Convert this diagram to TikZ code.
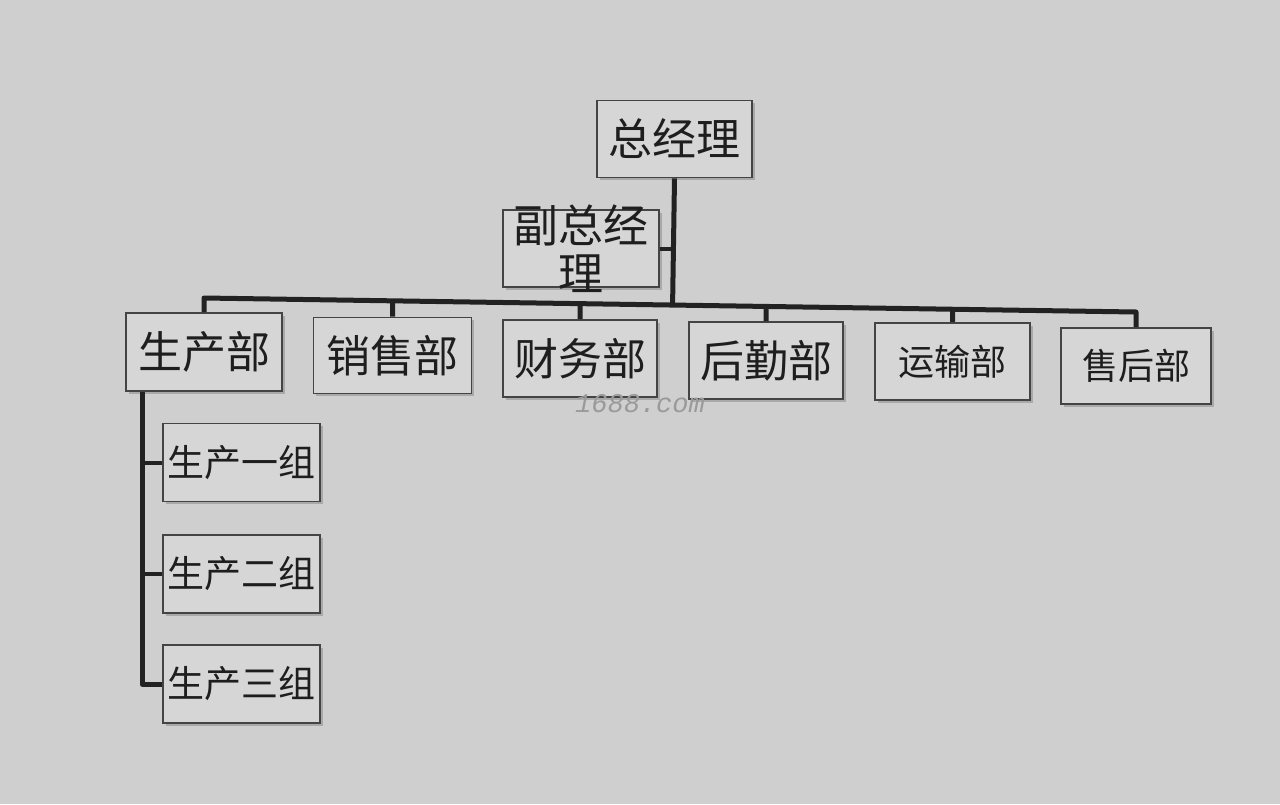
\documentclass[tikz,border=0pt]{standalone}
\usepackage{fontspec}
\setmainfont{Noto Sans CJK SC}
\newfontfamily\wmfont{Liberation Mono}
\usetikzlibrary{calc,shadows}
\definecolor{bg}{HTML}{CFCFCF}
\definecolor{boxfill}{HTML}{D6D6D6}
\definecolor{boxline}{HTML}{444444}
\definecolor{linec}{HTML}{222222}
\definecolor{ink}{HTML}{1E1E1E}
\definecolor{wm}{HTML}{9A9A9A}
\begin{document}
\begin{tikzpicture}[x=1pt,y=-1pt,
  box/.style={draw=boxline, fill=boxfill, line width=1.8pt, minimum width=155pt,
    minimum height=77pt, inner sep=0pt, text=ink,
    drop shadow={shadow xshift=2.5pt, shadow yshift=-2.5pt, fill=black, opacity=0.18}},
  big/.style={font=\fontsize{44}{48}\selectfont},
  mid/.style={font=\fontsize{36}{40}\selectfont},
  grp/.style={font=\fontsize{37}{40}\selectfont, minimum width=157pt, minimum height=78pt},
  link/.style={draw=linec, line width=5pt, line join=round},
  twig/.style={draw=linec, line width=4pt},
]
\fill[bg] (0,0) rectangle (1280,804);
\useasboundingbox (0,0) rectangle (1280,804);

% top
\node[box,big] (gm) at (674.5,139) {总经理};
\node[box, minimum width=156pt] (vgm) at (581,248.5) {};
\node[text=ink, align=center, font=\fontsize{45}{48}\selectfont, inner sep=0pt] (vgmtext) at (vgm) {副总经\\理};

% department row
\node[box,big, minimum width=156pt, minimum height=78pt] (prod) at (204,352) {生产部};
\node[box,big, minimum width=158pt, minimum height=76pt] (sale) at (392.5,355.5) {销售部};
\node[box,big, minimum width=154pt] (fin) at (580,358.5) {财务部};
\node[box,big, minimum width=154pt] (logi) at (766,360.5) {后勤部};
\node[box,mid] (trans) at (952.5,361.5) {运输部};
\node[box,mid, minimum width=150pt, minimum height=76pt] (after) at (1136,366) {售后部};

% production groups
\node[box,grp] (g1) at (241.5,462.5) {生产一组};
\node[box,grp] (g2) at (241.5,574) {生产二组};
\node[box,grp] (g3) at (241.5,684) {生产三组};

% bus
\coordinate (busL) at (204,298);
\coordinate (busR) at (1136,312);
\coordinate (sp) at (142,391);

\draw[link] (prod.north) -- (busL) -- (busR) -- (after.north);
\draw[link] (gm.south) -- ($(busL)!(gm.south)!(busR)$);
\draw[twig] (vgm.east) -- (vgm.east -| gm.south);
\foreach \n in {sale,fin,logi,trans}
  \draw[link] (\n.north) -- ($(busL)!(\n.north)!(busR)$);

% spine
\draw[link] (prod.south -| sp) |- (g3.west);
\draw[twig] (g1.west) -- (g1.west -| sp);
\draw[twig] (g2.west) -- (g2.west -| sp);

% watermark
\node[text=wm, font=\wmfont\itshape\fontsize{27}{30}\selectfont, inner sep=0pt] (wmark) at (640,404) {1688.com};
\end{tikzpicture}
\end{document}
